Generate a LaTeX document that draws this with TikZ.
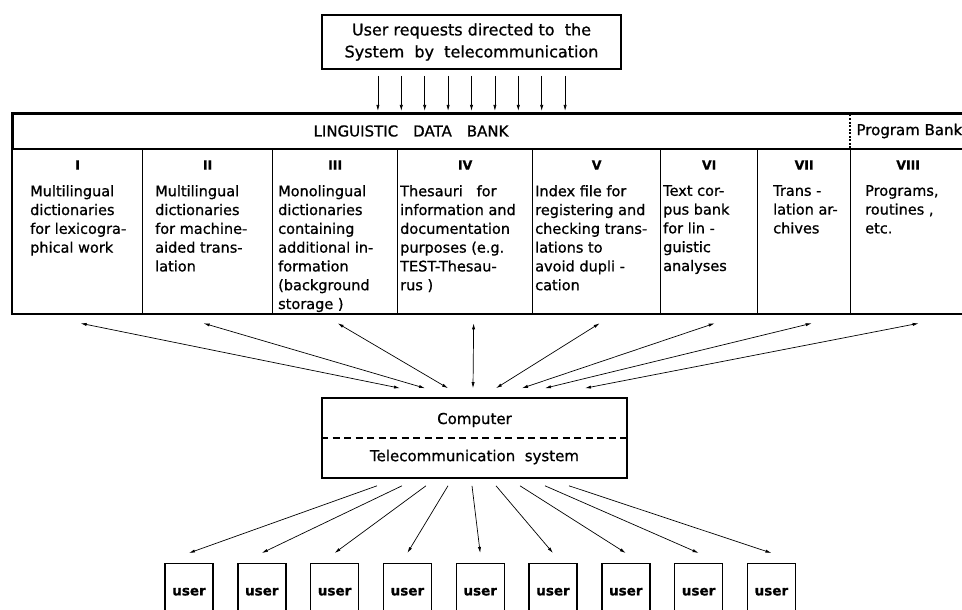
\documentclass[tikz,border=0pt]{standalone}
\usepackage{fontspec}
\setmainfont{DejaVu Sans}[FakeBold=0.9]
\usetikzlibrary{arrows.meta,positioning,calc}

\begin{document}
\begin{tikzpicture}[
  x=1pt, y=-1pt,
  frame/.style={draw, line width=1.6pt, inner sep=0pt},
  cell/.style={draw, line width=1.3pt, anchor=north west, minimum height=165pt, inner sep=0pt},
  numeral/.style={font=\bfseries\fontsize{12.5}{14}\selectfont},
  coltext/.style={font=\fontsize{14.5}{18.8}\selectfont, align=left, anchor=north west, inner sep=0pt},
  boxtext/.style={font=\fontsize{15}{22}\selectfont, align=center},
  userbox/.style={draw, line width=1.4pt, minimum width=48pt, minimum height=56pt, inner sep=0pt, font=\bfseries\fontsize{13.5}{15}\selectfont},
  arrow/.style={-{Latex[length=6pt,width=3.2pt]}, line width=0.7pt},
  biarrow/.style={{Latex[length=6pt,width=3.2pt]}-{Latex[length=6pt,width=3.2pt]}, line width=0.7pt},
  divider/.style={line width=1.2pt, dash pattern=on 2pt off 1.5pt}
]
\useasboundingbox (0,0) rectangle (962,610);

% requests coming in
\node[frame, boxtext, minimum width=299pt, minimum height=54pt, font=\fontsize{16}{22}\selectfont] (req) at (471.5,42) {User requests directed to\ \ the\\System\ \ by\ \ telecommunication};

% the data bank
\node[frame, anchor=north west, minimum width=953pt, minimum height=35pt] (bank) at (12,113) {};
\node[boxtext] (ldb) at (411,131) {LINGUISTIC\quad DATA\quad BANK};
\node[boxtext, anchor=west] (prog) at (853,131) {Program Bank};
\foreach \i/\l/\w in {1/12/130, 2/142/130, 3/272/125, 4/397/135, 5/532/128, 6/660/97, 7/757/93, 8/850/115}
  \node[cell, minimum width=\w pt] (c\i) at (\l,148) {};
\draw[line width=1.6pt] (bank.north west) rectangle (c8.south east);
\draw[divider] (c8.north west) -- (c8.north west |- bank.north);

\foreach \i/\n in {1/I, 2/II, 3/III, 4/IV, 5/V, 6/VI, 7/VII, 8/VIII}
  \node[numeral] (n\i) at ([yshift=-17pt]c\i.north) {\n};

\node[coltext] (t1) at ([shift={(18,37)}]c1.north west) {Multilingual\\dictionaries\\for lexicogra-\\phical work};
\node[coltext] (t2) at ([shift={(13,37)}]c2.north west) {Multilingual\\dictionaries\\for machine-\\aided trans-\\lation};
\node[coltext] (t3) at ([shift={(6,37)}]c3.north west) {Monolingual\\dictionaries\\containing\\additional in-\\formation\\(background\\storage )};
\node[coltext] (t4) at ([shift={(3,37)}]c4.north west) {Thesauri\ \ \ for\\information and\\documentation\\purposes (e.g.\\TEST-Thesau-\\rus )};
\node[coltext] (t5) at ([shift={(3,37)}]c5.north west) {Index file for\\registering and\\checking trans-\\lations to\\avoid dupli -\\cation};
\node[coltext] (t6) at ([shift={(3,37)}]c6.north west) {Text cor-\\pus bank\\for lin -\\guistic\\analyses};
\node[coltext] (t7) at ([shift={(16,37)}]c7.north west) {Trans -\\lation ar-\\chives};
\node[coltext] (t8) at ([shift={(15,37)}]c8.north west) {Programs,\\routines ,\\etc.};

% computer
\node[frame, minimum width=305pt, minimum height=80pt] (comp) at (474.5,438) {};
\node[boxtext] (cpu) at (474.5,420) {Computer};
\node[boxtext] (tele) at (474.5,457) {Telecommunication\ \ system};
\draw[line width=1.3pt, dash pattern=on 7pt off 4.5pt] (comp.west) -- (comp.east);

% users
\node[userbox, anchor=north] (u1) at (189,563) {user};
\foreach \i [remember=\i as \j (initially 1)] in {2,...,9}
  \node[userbox, right=23.4pt of u\j] (u\i) {user};

% connectors
\foreach \k in {-4,...,4}
  \draw[arrow] ($(req.south)+({23.4*\k},6)$) -- ($(req.south |- bank.north)+({23.4*\k},-2)$);
\foreach \i/\a/\b in {1/3/-74.5, 2/-4/-49.5, 3/2.5/-26.5, 4/8.5/-1.5, 5/3/21.5, 6/5.5/47.5, 7/7.5/70.5, 8/10.5/110.5}
  \draw[biarrow] ([shift={(\a,9)}]c\i.south) -- ([shift={(\b,-9)}]comp.north);
\foreach \i/\a in {1/-97.5, 2/-72.5, 3/-48.5, 4/-26.5, 5/-2.5, 6/21.5, 7/45.5, 8/70.5, 9/94.5}
  \draw[arrow] ([shift={(\a,7)}]comp.south) -- ([yshift=10pt]u\i.north);
\end{tikzpicture}
\end{document}
